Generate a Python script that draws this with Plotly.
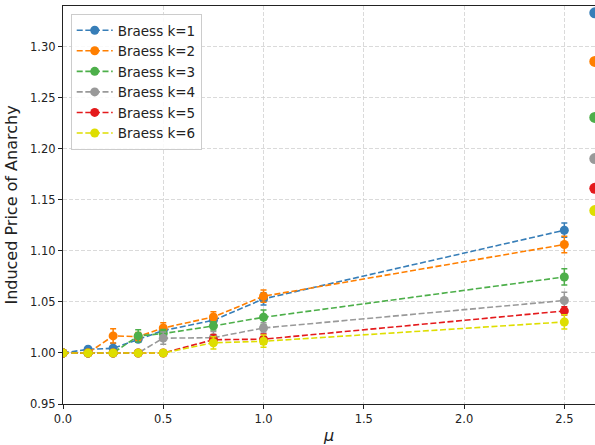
import plotly.graph_objects as go

mu = [0.0, 0.125, 0.25, 0.375, 0.5, 0.75, 1.0, 2.5]
labels = ["Braess k=1", "Braess k=2", "Braess k=3", "Braess k=4", "Braess k=5", "Braess k=6"]
colors = ["#377eb8", "#ff7f00", "#4daf4a", "#999999", "#e41a1c", "#dede00"]

poa_k1 = [1.000, 1.0036, 1.0046, 1.0134, 1.0220, 1.0320, 1.0530, 1.1203]
poa_k2 = [1.000, 1.0000, 1.0167, 1.0160, 1.0245, 1.0353, 1.0556, 1.1063]
poa_k3 = [1.000, 1.0000, 1.0000, 1.0167, 1.0190, 1.0265, 1.0350, 1.0745]
poa_k4 = [1.000, 1.0000, 1.0000, 1.0000, 1.0145, 1.0150, 1.0245, 1.0514]
poa_k5 = [1.000, 1.0000, 1.0000, 1.0000, 1.0000, 1.0130, 1.0135, 1.0412]
poa_k6 = [1.000, 1.0000, 1.0000, 1.0000, 1.0000, 1.0100, 1.0115, 1.0304]

err_k1 = [0, 0.002, 0.005, 0.003, 0.004, 0.005, 0.006, 0.007]
err_k2 = [0, 0.000, 0.007, 0.004, 0.005, 0.005, 0.006, 0.008]
err_k3 = [0, 0.000, 0.000, 0.006, 0.004, 0.004, 0.007, 0.008]
err_k4 = [0, 0.000, 0.000, 0.000, 0.006, 0.006, 0.005, 0.008]
err_k5 = [0, 0.000, 0.000, 0.000, 0.000, 0.005, 0.005, 0.004]
err_k6 = [0, 0.000, 0.000, 0.000, 0.000, 0.006, 0.006, 0.007]

# theoretical bounds shown at the right edge
bound_mu = 2.652
bound_values = [1.3333, 1.2857, 1.2308, 1.1905, 1.1613, 1.1395]

series = [poa_k1, poa_k2, poa_k3, poa_k4, poa_k5, poa_k6]
errors = [err_k1, err_k2, err_k3, err_k4, err_k5, err_k6]

fig = go.Figure()
for lab, col, ys, es in zip(labels, colors, series, errors):
    fig.add_trace(go.Scatter(
        x=mu, y=ys, name=lab, mode="lines+markers",
        line=dict(color=col, width=1.6, dash="6px,2.6px"),
        marker=dict(color=col, size=9),
        error_y=dict(type="data", array=es, color=col, thickness=1.5, width=3, visible=True),
    ))

fig.add_trace(go.Scatter(
    x=[bound_mu] * len(bound_values), y=bound_values, mode="markers",
    marker=dict(color=colors, size=11), showlegend=False, cliponaxis=False,
))

grid = "rgba(205,205,205,0.75)"
fig.update_layout(
    width=595, height=445,
    margin=dict(l=63, r=0, t=6, b=41),
    paper_bgcolor="white", plot_bgcolor="white",
    font=dict(family="DejaVu Sans", size=11.5, color="#222"),
    showlegend=True,
    legend=dict(
        x=0.0145, y=0.98, xanchor="left", yanchor="top",
        bgcolor="rgba(255,255,255,0.85)", bordercolor="#cccccc", borderwidth=1,
        font=dict(size=13.5, color="#222"), tracegroupgap=0, itemwidth=36,
    ),
    xaxis=dict(
        range=[0, 2.653], tickvals=[0, 0.5, 1.0, 1.5, 2.0, 2.5], tickformat=".1f",
        showgrid=True, gridcolor=grid, griddash="4px,2px", gridwidth=1,
        showline=True, linecolor="#222", linewidth=1.2, mirror=True,
        ticks="outside", ticklen=4, tickcolor="#222", zeroline=False,
        title=dict(text="<i>μ</i>", font=dict(size=16), standoff=5),
    ),
    yaxis=dict(
        range=[0.95, 1.34], tickvals=[0.95, 1.0, 1.05, 1.1, 1.15, 1.2, 1.25, 1.3], tickformat=".2f",
        showgrid=True, gridcolor=grid, griddash="4px,2px", gridwidth=1,
        showline=True, linecolor="#222", linewidth=1.2,
        ticks="outside", ticklen=4, tickcolor="#222", zeroline=False,
        title=dict(text="Induced Price of Anarchy", font=dict(size=16), standoff=8),
    ),
)

fig.write_html("out.html")
